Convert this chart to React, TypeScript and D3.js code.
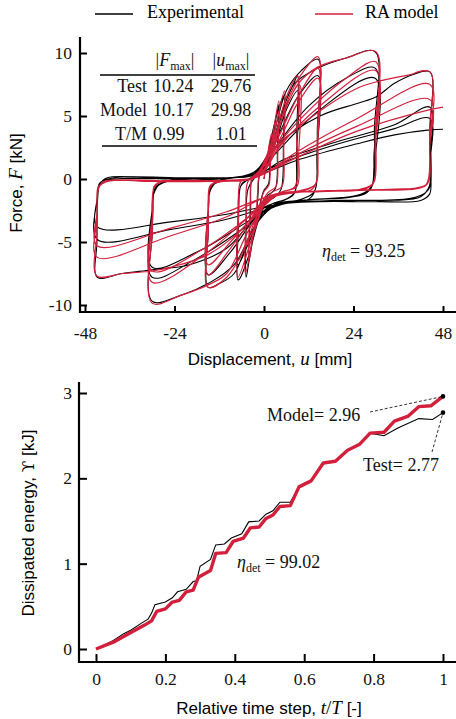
import * as d3 from "d3";
import { useEffect, useRef } from "react";

type Pt = [number, number];

// force-displacement loops, [u (mm), F (kN)]
const expSmall: Pt[] = [
  [0, 0], [1, 1.9], [2, 3.4], [1.6, 1.2], [1.2, -0.4], [0, -0.9], [-1, -1.9], [-2, -3.5], [-1.6, -1.2], [-1.2, 0.3], [0, 0.8],
  [1.5, 2.2], [3, 4.5], [4, 5.9], [3.6, 2.5], [3, -0.8], [1, -1.3], [-1.5, -2.5], [-3, -4.8], [-4, -6.2], [-3.6, -2.5], [-3, 0.3], [-1, 0.6],
  [1, 1.8], [2.5, 4], [4.2, 5.8], [5.3, 6.6], [5.2, 3], [4.6, -0.8], [3, -1.4], [0, -2], [-2, -3.5], [-4, -6.5], [-4.8, -7.8], [-4.8, -4], [-4.3, -0.8], [-2.5, 0.1], [0, 0.8],
  [2, 2.5], [5, 5.5], [8, 7.6], [9, 8.2], [8.8, 4], [8.3, -1], [6, -1.6], [2, -2], [-1, -3], [-4, -6], [-6.5, -7.9], [-7, -8], [-6.9, -4], [-6.3, -0.6], [-4, 0], [-1, 0.5],
  [2, 2], [6, 5.5], [9, 7], [8.7, 2], [8, -1.2], [4, -1.8], [0, -2.3], [-4, -5], [-7, -6.8], [-6.8, -2.5], [-6, -0.4], [-3, 0.1], [0, 0.8],
];
const exp15: Pt[] = [
  [3, 4], [6, 7], [10, 8.6], [14.5, 9.5], [14.3, 4], [13.8, -0.8], [12, -1.6], [6, -1.9], [2, -2.3], [-3, -4], [-8, -7.5], [-12, -8.3], [-15, -8.6], [-14.9, -4], [-14.5, -1], [-12.5, -0.2], [-6, 0.2], [-2, 0.7],
  [3, 3], [9, 6.5], [14.5, 8.2], [14.2, 2], [13.5, -1], [10, -1.6], [3, -2], [-2, -3], [-9, -5.8], [-15, -7.6], [-14.8, -2], [-14.2, -0.6], [-10, 0], [-2, 0.6],
];
const exp30: Pt[] = [
  [3, 3.5], [8, 7.5], [14.5, 8.8], [22, 9.6], [29.8, 10.1], [29.6, 4], [29.2, -0.4], [27, -1.2], [20, -1.5], [10, -1.7], [3, -2], [-2, -3.5], [-8, -6.8], [-15, -8.3], [-22, -9.2], [-30, -9.7], [-29.9, -4], [-29.6, -1.2], [-27.5, -0.3], [-18, -0.1], [-8, 0.1], [-2, 0.5],
  [3, 2.5], [12, 5.8], [22, 8], [29.8, 8.8], [29.5, 2], [28.8, -0.6], [25, -1.3], [10, -1.7], [2, -2.2], [-5, -3.8], [-18, -6.3], [-30, -7.8], [-29.8, -2.5], [-29.3, -0.8], [-26, -0.2], [-10, 0.1], [-2, 0.4],
  [3, 2], [15, 5.5], [29.8, 8.0], [29.5, 1], [28.6, -0.8], [24, -1.4], [10, -1.7], [2, -2.2], [-5, -3.5], [-18, -5.8], [-30, -7.0], [-29.8, -2], [-29, -0.6], [-25, -0.1], [-10, 0.1], [-2, 0.4],
];
const exp45: Pt[] = [
  [4, 2.8], [15, 5], [25, 6], [30, 6.5], [35, 7.6], [40, 8.3], [44.5, 8.5], [44.6, 4], [44.8, 0], [44.4, -1.2], [42, -1.7], [30, -1.8], [15, -1.8], [5, -2], [-2, -3], [-10, -5.5], [-20, -6.8], [-30, -7.2], [-38, -7.5], [-44.7, -7.8], [-44.8, -5], [-44.6, -1.5], [-44, -0.4], [-42, 0.1], [-30, 0.1], [-15, 0], [-5, 0.2], [0, 0.6],
  [5, 1.5], [20, 3], [35, 4.3], [44.5, 5.7], [44.6, 2], [44.3, -0.6], [42, -1.4], [25, -1.7], [10, -1.8], [0, -2.2], [-10, -2.8], [-25, -3.4], [-44.7, -3.8], [-44.7, -1.5], [-44, -0.3], [-40, 0.1], [-20, 0.1], [-5, 0.2], [0, 0.6],
  [5, 1.3], [20, 2.8], [35, 4], [44.5, 4.8], [44.6, 1.5], [44.2, -0.8], [40, -1.5], [20, -1.7], [5, -1.9], [0, -2.3], [-10, -3.2], [-25, -4], [-44.7, -4.8], [-44.7, -1.5], [-44, -0.3], [-40, 0], [-20, 0], [-5, 0.2], [0, 0.5],
  [10, 1.6], [25, 2.8], [35, 3.5], [44.5, 3.9], [48, 3.95],
];

const raSmall: Pt[] = [
  [0, 0], [1, 2], [2, 3.6], [1.7, 1], [1.3, -0.5], [0, -1], [-1, -2], [-2, -3.6], [-1.7, -1], [-1.3, 0.2], [0, 0.7],
  [2, 3], [4, 6.2], [3.7, 2], [3.2, -0.6], [1, -1.1], [-2, -3], [-4, -6.4], [-3.7, -2], [-3.2, 0], [-1, 0.5],
  [2, 2.8], [5.5, 7], [5.3, 2.5], [4.8, -0.6], [2, -1.1], [-2, -3.5], [-5, -7.5], [-4.8, -3], [-4.3, -0.2], [-2, 0.3],
  [2, 2.5], [6, 6.5], [9, 8.2], [8.8, 3], [8.3, -0.6], [5, -1], [1, -1.6], [-3, -4.5], [-7, -7.8], [-6.8, -3], [-6.2, -0.2], [-3, 0.1],
  [1, 1.5], [6, 5.8], [9.5, 7.5], [9.3, 2], [8.8, -0.6], [5, -1], [0, -1.8], [-4, -4.5], [-7, -6.5], [-6.8, -2], [-6.2, -0.2], [-3, 0],
];
const ra15: Pt[] = [
  [1, 1.2], [6, 6], [10, 8.3], [14.5, 9.7], [14.4, 4], [14, -0.3], [12.5, -0.9], [6, -1.1], [1, -1.6], [-4, -4.8], [-10, -7.8], [-15, -8.6], [-14.9, -4], [-14.6, -0.8], [-13, -0.2], [-6, -0.1], [-2, 0.3],
  [3, 2.8], [9, 6.5], [14.5, 8.8], [14.3, 3], [13.8, -0.4], [11, -0.9], [4, -1.2], [-2, -2.8], [-9, -5.5], [-15, -7.6], [-14.9, -2.5], [-14.5, -0.6], [-12, -0.2], [-4, 0],
  [3, 2.5], [9, 6], [14.5, 8.0], [14.3, 2.5], [13.8, -0.4], [10, -0.9], [3, -1.3], [-3, -3], [-9, -5], [-15, -6.8], [-14.9, -2], [-14.4, -0.5], [-11, -0.2], [-3, 0.1],
];
const ra30: Pt[] = [
  [3, 3.5], [9, 7.5], [14.5, 8.9], [22, 9.6], [30, 10.1], [29.9, 4], [29.6, -0.2], [28, -0.7], [20, -0.9], [8, -1.1], [2, -1.5], [-4, -4], [-10, -7.5], [-15, -8.4], [-22, -9.2], [-30, -9.85], [-29.9, -4], [-29.6, -0.8], [-28, -0.2], [-18, -0.2], [-6, -0.1], [-1, 0.3],
  [4, 2.8], [14, 6], [22, 8], [30, 9.3], [29.8, 3], [29.4, -0.3], [27, -0.8], [15, -1], [3, -1.3], [-4, -3], [-16, -6], [-30, -8.2], [-29.8, -3], [-29.4, -0.6], [-27, -0.2], [-10, -0.1], [-1, 0.3],
  [4, 2.5], [15, 5.8], [30, 8.6], [29.8, 2.5], [29.3, -0.3], [26, -0.8], [12, -1], [2, -1.3], [-5, -3.2], [-16, -5.5], [-30, -7.3], [-29.8, -2.5], [-29.3, -0.5], [-26, -0.2], [-10, -0.1], [-1, 0.3],
];
const ra45: Pt[] = [
  [5, 3], [15, 5.4], [25, 7.2], [30, 7.7], [38, 8.2], [44.5, 8.5], [44.4, 4], [44.1, 0], [43, -0.6], [35, -0.8], [20, -0.9], [8, -1.1], [1, -1.6], [-6, -4], [-15, -6], [-25, -7], [-30, -7.3], [-38, -7.5], [-44.8, -7.7], [-44.7, -4], [-44.4, -0.8], [-43, -0.2], [-30, -0.2], [-15, -0.2], [-4, 0], [0, 0.4],
  [8, 2], [25, 4.8], [44.5, 7.5], [44.4, 3], [44, -0.3], [42, -0.7], [25, -0.9], [8, -1.1], [0, -1.5], [-10, -3], [-25, -4.5], [-44.8, -6.2], [-44.7, -3], [-44.4, -0.7], [-42, -0.2], [-20, -0.2], [-4, 0], [0, 0.4],
  [8, 1.8], [25, 4.2], [44.5, 6.3], [44.4, 2.5], [44, -0.3], [41, -0.7], [25, -0.9], [8, -1.1], [0, -1.5], [-10, -2.6], [-25, -3.9], [-44.8, -5.3], [-44.7, -2.5], [-44.4, -0.6], [-42, -0.2], [-20, -0.2], [-4, 0], [0, 0.4],
  [8, 1.6], [25, 3.8], [44.5, 5.5], [48, 5.7],
];

// dissipated energy, [t/T, kJ]
const energyExp: Pt[] = [
  [0, 0], [0.05, 0.1], [0.08, 0.18], [0.1, 0.22], [0.13, 0.3], [0.15, 0.35], [0.16, 0.42], [0.17, 0.52], [0.2, 0.55],
  [0.22, 0.6], [0.235, 0.67], [0.26, 0.7], [0.28, 0.79], [0.29, 0.8], [0.3, 0.97], [0.33, 1.05], [0.345, 1.22], [0.37, 1.23],
  [0.39, 1.3], [0.42, 1.35], [0.44, 1.49], [0.47, 1.5], [0.49, 1.58], [0.51, 1.62], [0.53, 1.72], [0.56, 1.72], [0.585, 1.9],
  [0.62, 1.97], [0.655, 2.18], [0.69, 2.2], [0.725, 2.33], [0.76, 2.4], [0.79, 2.53], [0.83, 2.5], [0.87, 2.59], [0.93, 2.7],
  [0.97, 2.69], [1, 2.77],
];
const energyRa: Pt[] = [
  [0, 0], [0.05, 0.08], [0.09, 0.17], [0.14, 0.28], [0.16, 0.33], [0.175, 0.44], [0.2, 0.47], [0.22, 0.55], [0.24, 0.57],
  [0.26, 0.67], [0.28, 0.69], [0.295, 0.84], [0.33, 0.92], [0.345, 1.12], [0.375, 1.13], [0.395, 1.26], [0.425, 1.3],
  [0.445, 1.42], [0.47, 1.43], [0.49, 1.53], [0.51, 1.57], [0.53, 1.67], [0.56, 1.68], [0.585, 1.9], [0.62, 1.97],
  [0.655, 2.18], [0.69, 2.2], [0.725, 2.33], [0.76, 2.4], [0.79, 2.53], [0.83, 2.54], [0.86, 2.67], [0.9, 2.73],
  [0.93, 2.84], [0.965, 2.85], [1, 2.96],
];

const uTicks = [-48, -24, 0, 24, 48];
const fTicks = [-10, -5, 0, 5, 10];
const tTicks = [0, 0.2, 0.4, 0.6, 0.8, 1];
const eTicks = [0, 1, 2, 3];

const tableRows = [
  ["Test", "10.24", "29.76"],
  ["Model", "10.17", "29.98"],
  ["T/M", "0.99", "1.01"],
];

const RED = "#d2203c";
const SERIF = "'Liberation Serif', 'Times New Roman', serif";
const SANS = "'Liberation Sans', Arial, sans-serif";

export default function App() {
  const svgRef = useRef<SVGSVGElement>(null);

  const width = 456;
  const height = 719;

  // top panel
  const xF = d3.scaleLinear().domain([-48, 48]).range([85, 443]);
  const yF = d3.scaleLinear().domain([-10, 10]).range([305, 53]);
  // bottom panel
  const xE = d3.scaleLinear().domain([0, 1]).range([96, 443]);
  const yE = d3.scaleLinear().domain([0, 3]).range([649, 393]);

  const loopLine = d3
    .line<Pt>()
    .x((d) => xF(d[0]))
    .y((d) => yF(d[1]))
    .curve(d3.curveCatmullRom.alpha(0.5));
  const energyLine = d3
    .line<Pt>()
    .x((d) => xE(d[0]))
    .y((d) => yE(d[1]));

  const expPath = loopLine([...expSmall, ...exp15, ...exp30, ...exp45]) || "";
  const raPath = loopLine([...raSmall, ...ra15, ...ra30, ...ra45]) || "";

  useEffect(() => {
    const svg = d3.select(svgRef.current);
    const fmt = (d: any) => `${d}`;

    svg
      .select<SVGGElement>(".xAxisTop")
      .call(d3.axisBottom(xF).tickValues(uTicks).tickSize(-6).tickPadding(15).tickFormat(fmt));
    svg
      .select<SVGGElement>(".yAxisTop")
      .call(d3.axisLeft(yF).tickValues(fTicks).tickSize(-7).tickPadding(8).tickFormat(fmt));
    svg
      .select<SVGGElement>(".xAxisBot")
      .call(d3.axisBottom(xE).tickValues(tTicks).tickSize(-8).tickPadding(11).tickFormat(fmt));
    svg
      .select<SVGGElement>(".yAxisBot")
      .call(d3.axisLeft(yE).tickValues(eTicks).tickSize(-8).tickPadding(7).tickFormat(fmt));

    svg.selectAll(".axis .domain").remove();
    svg.selectAll(".axis").attr("font-family", SERIF).attr("font-size", 17.5);
    svg.selectAll(".axis .tick line").attr("stroke", "#000").attr("stroke-width", 2);
    svg.selectAll(".axis .tick text").attr("fill", "#111");
  }, []);

  return (
    <svg
      ref={svgRef}
      width={width}
      height={height}
      style={{ position: "absolute", left: 0, top: 0, background: "#fff" }}
    >
      {/* legend */}
      <line x1={95} x2={133} y1={14} y2={14} stroke="#000" strokeWidth={1.3} />
      <text x={147} y={18} fontFamily={SERIF} fontSize={18}>Experimental</text>
      <line x1={315} x2={353} y1={14} y2={14} stroke={RED} strokeWidth={1.3} />
      <text x={365} y={18} fontFamily={SERIF} fontSize={18}>RA model</text>

      {/* hysteresis loops */}
      <path d={expPath} fill="none" stroke="#000" strokeWidth={1.1} strokeLinejoin="round" />
      <path d={raPath} fill="none" stroke={RED} strokeWidth={1.2} strokeLinejoin="round" />

      {/* table */}
      <g fontFamily={SERIF} fontSize={18} fill="#111">
        <text x={175} y={66} textAnchor="middle">
          |<tspan fontStyle="italic">F</tspan>
          <tspan fontSize={12} dy={4}>max</tspan>
          <tspan dy={-4}>|</tspan>
        </text>
        <text x={231} y={66} textAnchor="middle">
          |<tspan fontStyle="italic">u</tspan>
          <tspan fontSize={12} dy={4}>max</tspan>
          <tspan dy={-4}>|</tspan>
        </text>
        {tableRows.map((r, i) => (
          <g key={r[0]}>
            <text x={147} y={92 + i * 24} textAnchor="end">{r[0]}</text>
            <text x={153} y={92 + i * 24}>{r[1]}</text>
            <text x={231} y={92 + i * 24} textAnchor="middle">{r[2]}</text>
          </g>
        ))}
      </g>
      <line x1={100} x2={255} y1={75} y2={75} stroke="#000" strokeWidth={1.5} />
      <line x1={102} x2={257} y1={146} y2={146} stroke="#000" strokeWidth={1.5} />

      <text x={322} y={257} fontFamily={SERIF} fontSize={18} fill="#111">
        <tspan fontStyle="italic">η</tspan>
        <tspan fontSize={12} dy={4}>det</tspan>
        <tspan dy={-4}> = 93.25</tspan>
      </text>

      {/* top axes */}
      <line x1={80} x2={80} y1={37} y2={313} stroke="#000" strokeWidth={2.2} />
      <line x1={79} x2={456} y1={312} y2={312} stroke="#000" strokeWidth={2.2} />
      <g className="axis xAxisTop" transform="translate(0,312)" />
      <g className="axis yAxisTop" transform="translate(80,0)" />
      <text x={270} y={365} textAnchor="middle" fontFamily={SANS} fontSize={17}>
        Displacement, <tspan fontFamily={SERIF} fontStyle="italic" fontSize={19}>u</tspan> [mm]
      </text>
      <text
        transform="translate(22,183) rotate(-90)"
        textAnchor="middle"
        fontFamily={SANS}
        fontSize={17}
      >
        Force, <tspan fontFamily={SERIF} fontStyle="italic" fontSize={19}>F</tspan> [kN]
      </text>

      {/* energy curves */}
      <path d={energyLine(energyExp) || ""} fill="none" stroke="#000" strokeWidth={1.1} />
      <path d={energyLine(energyRa) || ""} fill="none" stroke={RED} strokeWidth={3.4} strokeLinejoin="round" />

      {/* end annotations */}
      <line x1={370} y1={412} x2={xE(1)} y2={yE(2.96)} stroke="#000" strokeWidth={0.8} strokeDasharray="3,2" />
      <line x1={432} y1={452} x2={xE(1)} y2={yE(2.77)} stroke="#000" strokeWidth={0.8} strokeDasharray="3,2" />
      <circle cx={xE(1)} cy={yE(2.96)} r={2.3} fill="#000" />
      <circle cx={xE(1)} cy={yE(2.77)} r={2.3} fill="#000" />
      <text x={267} y={421} fontFamily={SERIF} fontSize={18} fill="#111">Model= 2.96</text>
      <text x={363} y={471} fontFamily={SERIF} fontSize={18} fill="#111">Test= 2.77</text>
      <text x={237} y={568} fontFamily={SERIF} fontSize={18} fill="#111">
        <tspan fontStyle="italic">η</tspan>
        <tspan fontSize={12} dy={4}>det</tspan>
        <tspan dy={-4}> = 99.02</tspan>
      </text>

      {/* bottom axes */}
      <line x1={79} x2={79} y1={382} y2={663} stroke="#000" strokeWidth={2.2} />
      <line x1={78} x2={456} y1={662} y2={662} stroke="#000" strokeWidth={2.2} />
      <g className="axis xAxisBot" transform="translate(0,662)" />
      <g className="axis yAxisBot" transform="translate(79,0)" />
      <text x={269} y={714} textAnchor="middle" fontFamily={SANS} fontSize={17}>
        Relative time step, <tspan fontFamily={SERIF} fontStyle="italic" fontSize={19}>t</tspan>
        <tspan fontFamily={SERIF} fontSize={19}>/</tspan>
        <tspan fontFamily={SERIF} fontStyle="italic" fontSize={19}>T</tspan> [-]
      </text>
      <text
        transform="translate(34,523) rotate(-90)"
        textAnchor="middle"
        fontFamily={SANS}
        fontSize={17}
      >
        Dissipated energy, <tspan fontFamily="'DejaVu Serif', serif" fontSize={17}>ϒ</tspan> [kJ]
      </text>
    </svg>
  );
}
